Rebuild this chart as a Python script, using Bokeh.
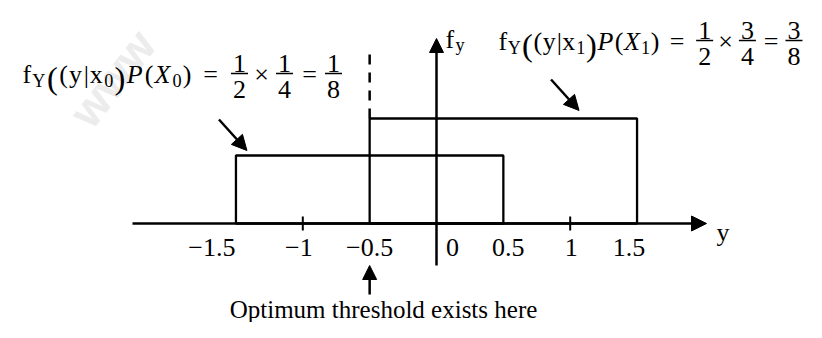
from bokeh.plotting import figure
from bokeh.models import Range1d, ColumnDataSource, Arrow, NormalHead
from bokeh.core.properties import value, field
from bokeh.embed import file_html
from bokeh.resources import INLINE

# ---------------- data ----------------
class_labels = ["0", "1"]              # X0, X1
interval_lo = [-1.5, -0.5]             # support of f_Y(y|x_i)
interval_hi = [0.5, 1.5]
drawn_height = [0.25, 0.386]           # schematic heights as drawn
density_num = ["1", "1"]
density_den = ["2", "2"]
prior_num = ["1", "3"]
prior_den = ["4", "4"]
joint_num = ["1", "3"]
joint_den = ["8", "8"]
tick_values = [-1.5, -1.0, -0.5, 0.0, 0.5, 1.0, 1.5]
tick_labels = ["\u22121.5", "\u22121", "\u22120.5", "0", "0.5", "1", "1.5"]
minor_ticks = [-1.0, 1.0]
threshold = -0.5
threshold_note = "Optimum threshold exists here"
axis_name = "y"
density_name = ("f", "y")

# ---------------- layout ----------------
W, H = 806, 322
OX, OY = 436.0, 223.0      # pixel of data origin (y measured from top)
SX, SY = 133.7, 272.0      # pixels per data unit
FONT = "Liberation Serif"
FS = 26
TEXT_DY = -6               # baseline correction for text glyphs (px, negative = up)
LW_AXIS = 2.5
LW_BOX = 2.3
INK = "black"


def X(px):
    return (px - OX) / SX


def Y(py):
    return (OY - py) / SY


def YT(py):
    return Y(py + TEXT_DY)


def PX(d):
    return OX + d * SX


def PY(d):
    return OY - d * SY


p = figure(width=W, height=H, x_range=Range1d(X(0), X(W)), y_range=Range1d(Y(H), Y(0)),
           x_axis_type=None, y_axis_type=None, toolbar_location=None,
           output_backend="svg", min_border=0, background_fill_color="white",
           border_fill_color="white")
p.outline_line_color = None
p.grid.visible = False

# faint watermark
p.text(x=[X(112)], y=[Y(78)], text=["www"], angle=52, angle_units="deg",
       text_font=value("Liberation Sans"), text_font_style="bold", text_font_size="46px",
       text_color="#ececec", text_align="center", text_baseline="middle")

# rectangles (f_Y(y|x_i) P(X_i))
rect_src = ColumnDataSource(dict(left=interval_lo, right=interval_hi,
                                 bottom=[0, 0], top=drawn_height))
p.quad(left="left", right="right", bottom="bottom", top="top", source=rect_src,
       fill_alpha=0, line_color=INK, line_width=LW_BOX)

# horizontal axis with arrow
p.add_layout(Arrow(end=NormalHead(size=15, fill_color=INK, line_color=INK),
                   x_start=X(132), y_start=0, x_end=X(706), y_end=0,
                   line_width=LW_AXIS, line_color=INK))
# vertical axis with arrow
p.add_layout(Arrow(end=NormalHead(size=14, fill_color=INK, line_color=INK),
                   x_start=0, y_start=Y(265), x_end=0, y_end=Y(38),
                   line_width=LW_AXIS, line_color=INK))

# minor ticks
p.segment(x0=minor_ticks, x1=minor_ticks, y0=[-7 / SY] * len(minor_ticks),
          y1=[7 / SY] * len(minor_ticks), line_color=INK, line_width=2)

# tick labels
lab_dx = [-24, -4, 0, 16, 5, 1, -8]
p.text(x=[v + d / SX for v, d in zip(tick_values, lab_dx)], y=[YT(253)] * len(tick_values),
       text=tick_labels, text_font=value(FONT), text_font_size=f"{FS}px",
       text_color=INK, text_align="center", text_baseline="alphabetic")

# axis names
p.text(x=[X(716)], y=[YT(238)], text=[axis_name], text_font=value(FONT),
       text_font_size=f"{FS}px", text_color=INK, text_align="left", text_baseline="alphabetic")
p.text(x=[9 / SX, 19 / SX], y=[YT(45), YT(50)], text=list(density_name), text_font=value(FONT),
       text_font_size=[f"{FS}px", f"{FS * 0.7:.1f}px"], text_color=INK,
       text_align="left", text_baseline="alphabetic")

# dashed threshold line above the second box
p.segment(x0=[threshold], x1=[threshold], y0=[drawn_height[1]], y1=[Y(49)],
          line_color=INK, line_width=LW_AXIS, line_dash="10 8")

# threshold pointer arrow and note
p.add_layout(Arrow(end=NormalHead(size=14, fill_color=INK, line_color=INK),
                   x_start=threshold, y_start=Y(294), x_end=threshold, y_end=Y(265),
                   line_width=LW_AXIS, line_color=INK))
p.text(x=[X(383)], y=[YT(315)], text=[threshold_note], text_font=value(FONT),
       text_font_size="25px", text_color=INK, text_align="center", text_baseline="alphabetic")

# pointer arrows to the boxes
tips = [(PX(interval_lo[0]) + 11, PY(drawn_height[0]) - 5),
        (PX(interval_hi[1]) - 58, PY(drawn_height[1]) - 8)]
for tx, ty in tips:
    p.add_layout(Arrow(end=NormalHead(size=15, fill_color=INK, line_color=INK),
                       x_start=X(tx - 28), y_start=Y(ty - 31), x_end=X(tx), y_end=Y(ty),
                       line_width=LW_AXIS, line_color=INK))

# formulas
ADV = {"f": 0.333, "Y": 0.722, "(": 0.333, ")": 0.333, "y": 0.5, "|": 0.2, "x": 0.5,
       "P": 0.611, "X": 0.611, "0": 0.5, "1": 0.5}
PREFIX_W = 170
rows = dict(x=[], y=[], text=[], size=[], style=[], align=[])
bars = dict(x0=[], x1=[], y=[])


def add(tx, ty, t, size, style="normal", align="left"):
    rows["x"].append(X(tx))
    rows["y"].append(YT(ty))
    rows["text"].append(t)
    rows["size"].append(f"{size:.1f}px")
    rows["style"].append(style)
    rows["align"].append(align)


def formula(k, x0, base, sc=1.0):
    idx = class_labels[k]
    runs = [("f", 1, 0, 0), ("Y", 0.7, 6, 0), ("(", 1.25, 3, 0), ("(", 1, 0, 0), ("y", 1, 0, 0),
            ("|", 1, 0, 0), ("x", 1, 0, 0), (idx, 0.7, 6, 0), (")", 1.25, 3, 0),
            ("P", 1, 0, 1), ("(", 1, 0, 0), ("X", 1, 0, 1), (idx, 0.7, 6, 0), (")", 1, 0, 0)]
    total = sum(ADV[t] * s for t, s, _, _ in runs) * FS
    kx = PREFIX_W * sc / total
    cx = x0
    for t, s, dy, it in runs:
        add(cx, base + dy, t, FS * s, "italic" if it else "normal")
        cx += ADV[t] * s * FS * kx
    bar = base - 7
    ops = [(188, "="), (239, "\u00d7"), (287, "=")]
    for ox, t in ops:
        add(x0 + ox * sc, bar + 7, t, FS, align="center")
    fracs = [(217, density_num[k], density_den[k]), (262, prior_num[k], prior_den[k]),
             (311, joint_num[k], joint_den[k])]
    for fx, n, d in fracs:
        cxf = x0 + fx * sc
        add(cxf, bar - 4, n, FS, align="center")
        add(cxf, bar + 22, d, FS, align="center")
        bars["x0"].append(X(cxf - 8.5))
        bars["x1"].append(X(cxf + 8.5))
        bars["y"].append(Y(bar))


formula(0, 22, 80)
formula(1, 498, 47, 0.95)

p.text(x="x", y="y", text="text", source=ColumnDataSource(rows), text_font=value(FONT),
       text_font_size=field("size"), text_font_style=field("style"), text_align=field("align"),
       text_baseline="alphabetic", text_color=INK)
p.segment(x0="x0", x1="x1", y0="y", y1="y", source=ColumnDataSource(bars),
          line_color=INK, line_width=1.5)

open("out.html", "w").write(file_html(p, INLINE))
